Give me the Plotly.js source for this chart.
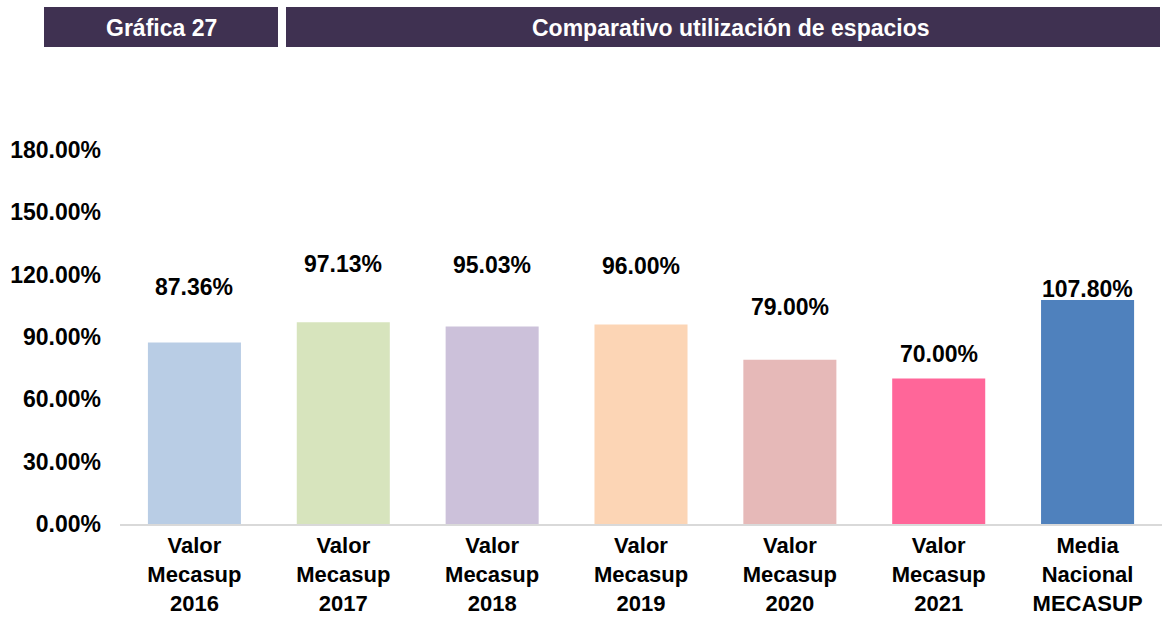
<!DOCTYPE html>
<html>
<head>
<meta charset="utf-8">
<script src="https://cdn.plot.ly/plotly-3.0.1.min.js"></script>
<style>
  html, body { margin: 0; padding: 0; background: #ffffff; }
  #chart { width: 1162px; height: 621px; }
</style>
</head>
<body>
<div id="chart"></div>
<script>
// ---- data ----
const categories = [
  "Valor<br>Mecasup<br>2016",
  "Valor<br>Mecasup<br>2017",
  "Valor<br>Mecasup<br>2018",
  "Valor<br>Mecasup<br>2019",
  "Valor<br>Mecasup<br>2020",
  "Valor<br>Mecasup<br>2021",
  "Media<br>Nacional<br>MECASUP"
];
const values = [0.8736, 0.9713, 0.9503, 0.9600, 0.7900, 0.7000, 1.0780];
const tickValues = [0, 0.3, 0.6, 0.9, 1.2, 1.5, 1.8];
const headerLeft = "Gráfica 27";
const headerTitle = "Comparativo utilización de espacios";

// ---- style ----
const barColors = ["#B9CDE5", "#D7E4BD", "#CCC1DA", "#FCD5B5", "#E6B9B8", "#FF6699", "#4F81BD"];
const labelLift = [55, 58, 62, 59, 53, 25, 11]; // px offset of value labels above bar tops
const FONT = "'Liberation Sans', Arial, sans-serif";
const W = 1162, H = 621;
const M = { l: 120, r: 0, t: 150, b: 97 };
const plotW = W - M.l - M.r, plotH = H - M.t - M.b;
const px2x = px => (px - M.l) / plotW;
const px2y = py => (H - M.b - py) / plotH;
const headerColor = "#3F3151";

const trace = {
  type: "bar",
  x: categories,
  y: values,
  marker: { color: barColors, line: { width: 0 } },
  hoverinfo: "skip"
};

const annotations = categories.map((c, i) => ({
  x: c, y: values[i], xref: "x", yref: "y",
  text: (values[i] * 100).toFixed(2) + "%",
  showarrow: false, yanchor: "middle", yshift: labelLift[i],
  font: { family: FONT, size: 23, color: "#000000", weight: "bold" }
}));

annotations.push({
  xref: "paper", yref: "paper", x: px2x(161), y: px2y(28),
  text: "<b>" + headerLeft + "</b>", showarrow: false,
  xanchor: "center", yanchor: "middle",
  font: { family: FONT, size: 23, color: "#ffffff" }
});
annotations.push({
  xref: "paper", yref: "paper", x: px2x(731), y: px2y(28),
  text: "<b>" + headerTitle + "</b>", showarrow: false,
  xanchor: "center", yanchor: "middle",
  font: { family: FONT, size: 23, color: "#ffffff" }
});

const shapes = [
  { type: "rect", xref: "paper", yref: "paper", x0: px2x(44), x1: px2x(278), y0: px2y(47), y1: px2y(7),
    fillcolor: headerColor, line: { width: 0 }, layer: "above" },
  { type: "rect", xref: "paper", yref: "paper", x0: px2x(286), x1: px2x(1160), y0: px2y(47), y1: px2y(7),
    fillcolor: headerColor, line: { width: 0 }, layer: "above" }
];

const layout = {
  width: W, height: H,
  margin: M,
  paper_bgcolor: "#ffffff", plot_bgcolor: "#ffffff",
  showlegend: false,
  bargap: 0.375,
  font: { family: FONT, color: "#000000" },
  xaxis: {
    type: "category",
    showgrid: false, zeroline: false,
    showline: true, linecolor: "#D9D9D9", linewidth: 2,
    ticks: "", tickangle: 0, ticklabelstandoff: 1,
    tickfont: { family: FONT, size: 22, color: "#000000", weight: "bold" },
    fixedrange: true
  },
  yaxis: {
    range: [0, 1.8],
    tickvals: tickValues,
    ticktext: tickValues.map(v => (v * 100).toFixed(2) + "%"),
    showgrid: false, zeroline: false, showline: false,
    ticks: "", ticklabelstandoff: 18,
    tickfont: { family: FONT, size: 23, color: "#000000", weight: "bold" },
    fixedrange: true
  },
  annotations: annotations,
  shapes: shapes
};

Plotly.newPlot("chart", [trace], layout, { displayModeBar: false, staticPlot: true });
</script>
</body>
</html>
